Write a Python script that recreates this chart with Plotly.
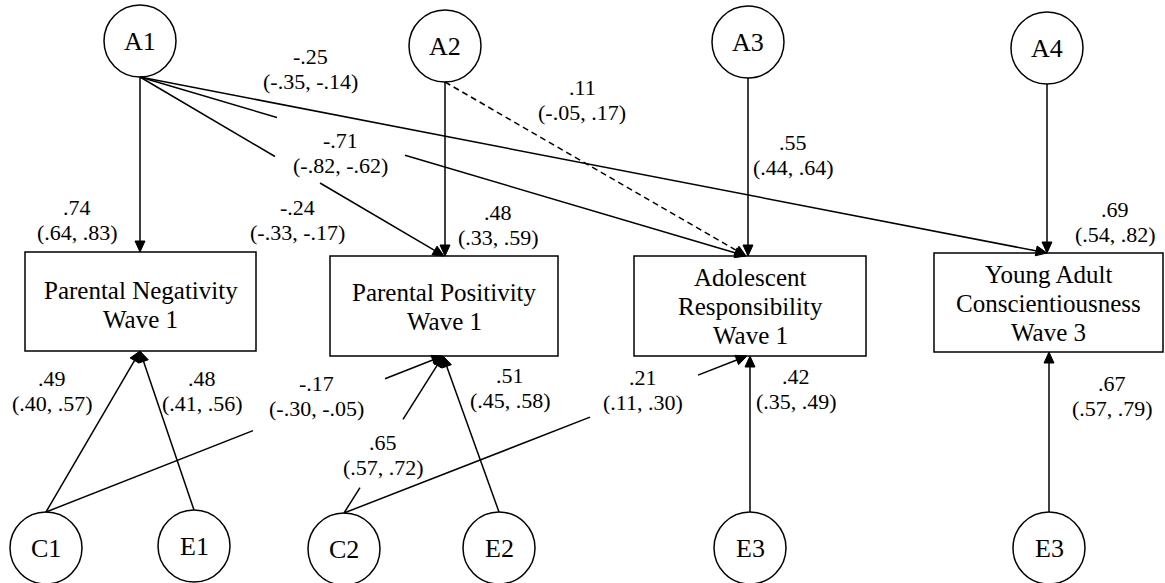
import math
import plotly.graph_objects as go

# ---------------- data ----------------
latent_names = ["A1", "A2", "A3", "A4", "C1", "E1", "C2", "E2", "E3", "E3"]
latent_ids = ["A1", "A2", "A3", "A4", "C1", "E1", "C2", "E2", "E3a", "E3b"]
observed_ids = ["PN", "PP", "AR", "YC"]
observed_labels = [
    ["Parental Negativity", "Wave 1"],
    ["Parental Positivity", "Wave 1"],
    ["Adolescent", "Responsibility", "Wave 1"],
    ["Young Adult", "Conscientiousness", "Wave 3"],
]
path_from = ["A1", "A1", "A1", "A1", "A2", "A2", "A3", "A4",
             "C1", "E1", "C1", "C2", "E2", "C2", "E3a", "E3b"]
path_to = ["PN", "PP", "AR", "YC", "PP", "AR", "AR", "YC",
           "PN", "PN", "PP", "PP", "PP", "AR", "AR", "YC"]
estimates = [.74, -.24, -.71, -.25, .48, .11, .55, .69,
             .49, .48, -.17, .65, .51, .21, .42, .67]
ci_low = [.64, -.33, -.82, -.35, .33, -.05, .44, .54,
          .40, .41, -.30, .57, .45, .11, .35, .57]
ci_high = [.83, -.17, -.62, -.14, .59, .17, .64, .82,
           .57, .56, -.05, .72, .58, .30, .49, .79]
significant = [True, True, True, True, True, False, True, True,
               True, True, True, True, True, True, True, True]

# ---------------- layout (positions / styles) ----------------
W, H = 1165, 583
R = 36
node_pos = {"A1": (140, 41), "A2": (445, 46), "A3": (748, 42), "A4": (1047, 48),
            "C1": (46, 548), "E1": (194, 546), "C2": (344, 549), "E2": (499, 548),
            "E3a": (750, 548), "E3b": (1049, 548)}
box_rect = {"PN": (25, 252, 256, 351), "PP": (330, 256, 558, 356),
            "AR": (634, 256, 866, 356), "YC": (934, 253, 1163, 352)}
box_line_y = {"PN": [290, 319], "PP": [292, 321], "AR": [277, 306, 335],
              "YC": [274, 303, 332]}
target_x = [140, 444, 746, 1047, 445, 746, 748, 1047,
            140, 140, 443, 443, 443, 747, 750, 1049]
gap_x = {2: (277, 405), 1: (275, 320), 10: (253, 385), 11: (360, 403), 13: (590, 698)}
label_center = [(77, 220), (297, 220), (340, 153), (310, 69), (498, 225), (582, 100),
                (793, 155), (1115, 222), (52, 391), (202, 391), (316, 396), (383, 455),
                (510, 388), (643, 390), (796, 389), (1112, 396)]
FONT = "Liberation Serif, Times New Roman, serif"
LW = 1.5


def fmt(v):
    s = f"{v:.2f}"
    return s.replace("0.", ".", 1)


shapes = []
annotations = []

# circles
for nid, name in zip(latent_ids, latent_names):
    cx, cy = node_pos[nid]
    shapes.append(dict(type="circle", xref="x", yref="y", x0=cx - R, x1=cx + R,
                       y0=cy - R, y1=cy + R, line=dict(color="black", width=LW),
                       fillcolor="white", layer="above"))
    annotations.append(dict(x=cx, y=cy, text=name, showarrow=False,
                            font=dict(family=FONT, size=26, color="black")))

# boxes
for bid, lines in zip(observed_ids, observed_labels):
    x0, y0, x1, y1 = box_rect[bid]
    shapes.append(dict(type="rect", xref="x", yref="y", x0=x0, x1=x1, y0=y0, y1=y1,
                       line=dict(color="black", width=LW), fillcolor="rgba(0,0,0,0)"))
    for ln, yy in zip(lines, box_line_y[bid]):
        annotations.append(dict(x=(x0 + x1) / 2, y=yy, text=ln, showarrow=False,
                                font=dict(family=FONT, size=25, color="black")))

# paths
AL, AW = 11, 10
for i, (src, dst) in enumerate(zip(path_from, path_to)):
    cx, cy = node_pos[src]
    x0, y0, x1, y1 = box_rect[dst]
    if cy < y0:  # source above box
        sx, sy = cx, cy + R
        tx, ty = target_x[i], y0
    else:
        sx, sy = cx, cy - R
        tx, ty = target_x[i], y1
    dash = "solid" if significant[i] else "6px,4px"
    segs = [((sx, sy), (tx, ty))]
    if i in gap_x:
        gx0, gx1 = gap_x[i]

        def at(x):
            t = (x - sx) / (tx - sx)
            return (x, sy + t * (ty - sy))
        segs = [((sx, sy), at(gx0)), (at(gx1), (tx, ty))]
    dx, dy = tx - sx, ty - sy
    L = math.hypot(dx, dy)
    ux, uy = dx / L, dy / L
    for k, (p, q) in enumerate(segs):
        if k == len(segs) - 1:
            q = (q[0] - ux * (AL - 2), q[1] - uy * (AL - 2))
        shapes.append(dict(type="line", xref="x", yref="y", x0=p[0], y0=p[1],
                           x1=q[0], y1=q[1], line=dict(color="black", width=LW, dash=dash)))
    bx, by = tx - ux * AL, ty - uy * AL
    px, py = -uy, ux
    path = (f"M {tx} {ty} L {bx + px * AW / 2} {by + py * AW / 2} "
            f"L {bx - px * AW / 2} {by - py * AW / 2} Z")
    shapes.append(dict(type="path", xref="x", yref="y", path=path,
                       fillcolor="black", line=dict(color="black", width=1)))
    lx, ly = label_center[i]
    annotations.append(dict(x=lx, y=ly - 12.5, text=fmt(estimates[i]), showarrow=False,
                            font=dict(family=FONT, size=22, color="black")))
    annotations.append(dict(x=lx, y=ly + 12.5,
                            text=f"({fmt(ci_low[i])}, {fmt(ci_high[i])})", showarrow=False,
                            font=dict(family=FONT, size=22, color="black")))

fig = go.Figure()
fig.update_layout(
    width=W, height=H, margin=dict(l=0, r=0, t=0, b=0),
    paper_bgcolor="white", plot_bgcolor="white",
    xaxis=dict(range=[0, W], visible=False, fixedrange=True),
    yaxis=dict(range=[H, 0], visible=False, fixedrange=True),
    shapes=shapes, annotations=annotations, showlegend=False,
)
fig.write_html("out.html", config={"displayModeBar": False},
               post_script="document.body.style.margin='0px';document.body.style.overflow='hidden';")
